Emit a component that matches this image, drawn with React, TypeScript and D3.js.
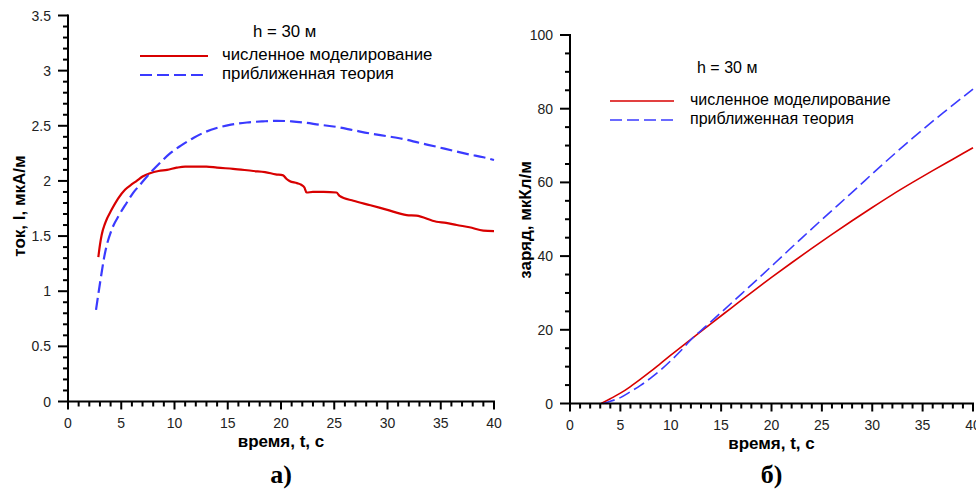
import * as d3 from 'd3'
import { FC } from 'react'

// left panel: current, I (мкА/м)
const tNumI = [2.85, 3.0, 3.16, 3.5, 4.1, 4.7, 5.35, 6.0, 6.45, 7.0, 7.7, 8.5, 9.3, 10.2, 11.0, 11.8, 13.0, 14.0, 15.5, 17.4, 18.5, 19.5, 20.2, 20.5, 20.8, 21.5, 21.9, 22.2, 22.4, 23.0, 24.0, 25.2, 25.5, 26.8, 28.4, 29.9, 31.8, 32.7, 34.6, 35.5, 36.5, 37.7, 39.0, 40.0]
const iNum = [1.31, 1.42, 1.51, 1.62, 1.74, 1.84, 1.92, 1.97, 2.0, 2.04, 2.07, 2.09, 2.1, 2.12, 2.13, 2.13, 2.13, 2.12, 2.11, 2.09, 2.08, 2.06, 2.05, 2.02, 2.0, 1.98, 1.965, 1.94, 1.895, 1.9, 1.9, 1.895, 1.865, 1.82, 1.78, 1.74, 1.69, 1.685, 1.63, 1.62, 1.6, 1.58, 1.55, 1.545]
const tTheoryI = [2.63, 3.0, 3.47, 4.1, 4.8, 5.5, 6.1, 6.76, 7.7, 8.6, 9.58, 10.6, 11.77, 12.8, 13.96, 15.3, 16.8, 18.3, 19.6, 21.0, 22.1, 23.6, 25.2, 26.8, 28.4, 30.0, 31.5, 33.0, 34.6, 36.1, 37.7, 39.0, 40.0]
const iTheory = [0.83, 1.07, 1.345, 1.557, 1.69, 1.8, 1.89, 1.965, 2.07, 2.16, 2.25, 2.32, 2.39, 2.44, 2.48, 2.51, 2.53, 2.54, 2.545, 2.54, 2.53, 2.51, 2.49, 2.46, 2.43, 2.405, 2.38, 2.345, 2.31, 2.275, 2.24, 2.215, 2.19]

// right panel: charge, Q (мкКл/м)
const tNumQ = [3.1, 4, 5, 6, 7, 8, 9, 10, 12, 14, 16, 18, 20, 22, 24, 26, 28, 30, 32, 34, 36, 38, 40]
const qNum = [0, 1.3, 2.8, 4.6, 6.6, 8.7, 10.9, 13.1, 17.4, 21.7, 25.9, 30.1, 34.2, 38.2, 42.1, 45.9, 49.6, 53.2, 56.7, 60.0, 63.2, 66.3, 69.4]
const tTheoryQ = [3.3, 4, 5, 6, 7, 8, 9, 10, 11, 12, 13.5, 15, 17, 19, 21, 23, 25, 28, 31, 34, 37, 40]
const qTheory = [0, 0.6, 1.6, 3.2, 4.9, 6.9, 9.1, 11.6, 14.3, 17.3, 21.0, 24.7, 29.7, 34.7, 39.8, 44.9, 49.9, 57.3, 64.8, 72.0, 78.8, 85.3]

const LEGEND_TITLE = 'h = 30 м'
const SERIES_NAMES = ['численное моделирование', 'приближенная теория']
const X_TITLE = 'время, t, с'

const RED = '#d80000'
const BLUE = '#3a3aff'
const SANS = '"Liberation Sans", Arial, sans-serif'

type PanelProps = {
  x0: number
  x1: number
  yTop: number
  yBottom: number
  yMax: number
  yMajor: number
  yMinor: number
  yTitle: string
  yTitleX: number
  yTitleY: number
  panelLabel: string
  lines: { t: number[]; v: number[] }[]
  legend: { titleX: number; titleY: number; lineX0: number; lineX1: number; textX: number; row0: number; rowStep: number; fontSize: number }
  lineWidth: number
}

const Panel: FC<PanelProps> = ({ x0, x1, yTop, yBottom, yMax, yMajor, yMinor, yTitle, yTitleX, yTitleY, panelLabel, lines, legend, lineWidth }) => {
  const xScale = d3.scaleLinear().domain([0, 40]).range([x0, x1])
  const yScale = d3.scaleLinear().domain([0, yMax]).range([yBottom, yTop])

  const lineGen = d3
    .line<[number, number]>()
    .x((d) => xScale(d[0]))
    .y((d) => yScale(d[1]))
    .curve(d3.curveMonotoneX)

  const xMajors = xScale.ticks(8)
  const xMinors = xScale.ticks(40)
  const yMajors = yScale.ticks(yMajor)
  const yMinors = yScale.ticks(yMinor)

  const colors = [RED, BLUE]
  const dashes = ['none', '12,5']

  return (
    <g>
      {lines.map((s, i) => (
        <path
          key={i}
          d={lineGen(s.t.map((t, j) => [t, s.v[j]] as [number, number])) as string}
          fill='none'
          stroke={colors[i]}
          strokeWidth={lineWidth}
          strokeDasharray={dashes[i]}
        />
      ))}

      {/* axes */}
      <line x1={x0} x2={x0} y1={yTop - 1} y2={yBottom + 1} stroke='#000' strokeWidth={2} />
      <line x1={x0 - 1} x2={x1 + 1} y1={yBottom} y2={yBottom} stroke='#000' strokeWidth={2} />
      {xMinors.map((v) => (
        <line key={'xm' + v} x1={xScale(v)} x2={xScale(v)} y1={yBottom} y2={yBottom + (v % 5 === 0 ? 8 : 5)} stroke='#000' strokeWidth={2} />
      ))}
      {yMinors.map((v, i) => {
        const isMajor = yMajors.some((m) => Math.abs(m - v) < 1e-9)
        return <line key={'ym' + i} x1={x0 - (isMajor ? 10 : 5)} x2={x0} y1={yScale(v)} y2={yScale(v)} stroke='#000' strokeWidth={2} />
      })}
      {xMajors.map((v) => (
        <text key={'xl' + v} x={xScale(v)} y={yBottom + 26} textAnchor='middle' fontFamily={SANS} fontSize={14} fill='#222'>
          {v}
        </text>
      ))}
      {yMajors.map((v, i) => (
        <text key={'yl' + i} x={x0 - 17} y={yScale(v) + 5} textAnchor='end' fontFamily={SANS} fontSize={14} fill='#222'>
          {String(+v.toFixed(1))}
        </text>
      ))}

      {/* titles */}
      <text x={(x0 + x1) / 2} y={yBottom + 45} textAnchor='middle' fontFamily={SANS} fontSize={17} fontWeight='bold'>
        {X_TITLE}
      </text>
      <text
        transform={`translate(${yTitleX},${yTitleY}) rotate(-90)`}
        textAnchor='middle'
        fontFamily={SANS}
        fontSize={17}
        fontWeight='bold'
      >
        {yTitle}
      </text>
      <text x={(x0 + x1) / 2} y={483} textAnchor='middle' fontFamily='"Liberation Serif", "Times New Roman", serif' fontSize={26} fontWeight='bold'>
        {panelLabel}
      </text>

      {/* legend */}
      <text x={legend.titleX} y={legend.titleY} fontFamily={SANS} fontSize={legend.fontSize}>
        {LEGEND_TITLE}
      </text>
      {SERIES_NAMES.map((name, i) => (
        <g key={name}>
          <line
            x1={legend.lineX0}
            x2={legend.lineX1}
            y1={legend.row0 + i * legend.rowStep - 4}
            y2={legend.row0 + i * legend.rowStep - 4}
            stroke={colors[i]}
            strokeWidth={lineWidth}
            strokeDasharray={dashes[i]}
          />
          <text x={legend.textX} y={legend.row0 + i * legend.rowStep} fontFamily={SANS} fontSize={legend.fontSize}>
            {name}
          </text>
        </g>
      ))}
    </g>
  )
}

const App: FC = () => {
  return (
    <svg width={976} height={491} style={{ position: 'absolute', left: 0, top: 0, background: '#fff' }}>
      <rect width={976} height={491} fill='#fff' />
      <Panel
        x0={68}
        x1={494}
        yTop={15.5}
        yBottom={401.5}
        yMax={3.5}
        yMajor={7}
        yMinor={35}
        yTitle='ток, I, мкА/м'
        yTitleX={25}
        yTitleY={206}
        panelLabel='а)'
        lines={[
          { t: tNumI, v: iNum },
          { t: tTheoryI, v: iTheory },
        ]}
        legend={{ titleX: 253, titleY: 37, lineX0: 140, lineX1: 208, textX: 222, row0: 60, rowStep: 19, fontSize: 16.8 }}
        lineWidth={2.2}
      />
      <Panel
        x0={570}
        x1={973}
        yTop={35}
        yBottom={403.5}
        yMax={100}
        yMajor={5}
        yMinor={20}
        yTitle='заряд, мкКл/м'
        yTitleX={531}
        yTitleY={220}
        panelLabel='б)'
        lines={[
          { t: tNumQ, v: qNum },
          { t: tTheoryQ, v: qTheory },
        ]}
        legend={{ titleX: 697, titleY: 73, lineX0: 610, lineX1: 674, textX: 690, row0: 105, rowStep: 19, fontSize: 16 }}
        lineWidth={1.6}
      />
    </svg>
  )
}

export default App
